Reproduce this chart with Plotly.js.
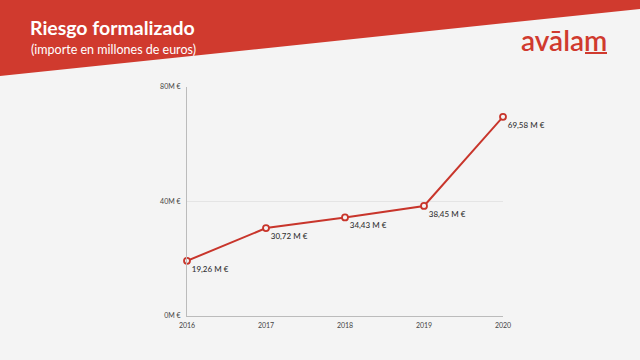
<!DOCTYPE html>
<html><head><meta charset="utf-8">
<script src="https://cdn.plot.ly/plotly-3.0.1.min.js"></script>
<style>html,body{margin:0;padding:0;background:#f4f4f4;}#chart{width:640px;height:360px;}</style>
</head><body><div id="chart"></div>
<script>
const years = [2016, 2017, 2018, 2019, 2020];
const values = [19.26, 30.72, 34.43, 38.45, 69.58];
const valueLabels = ["19,26 M €", "30,72 M €", "34,43 M €", "38,45 M €", "69,58 M €"];
const yTickVals = [0, 40, 80];
const yTickText = ["0M €", "40M €", "80M €"];

const W = 640, H = 360;
const M = {l: 187, r: 137, t: 87, b: 44};
const pw = W - M.l - M.r, ph = H - M.t - M.b;
const px = x => (x - M.l) / pw;
const py = y => (H - M.b - y) / ph;
const red = '#d03a2e';

const trace = {
  x: years, y: values, type: 'scatter', mode: 'lines+markers+text',
  text: valueLabels, textposition: 'bottom right',
  textfont: {family: 'Lato, sans-serif', size: 8, color: '#333', weight: 500},
  line: {color: '#c8352b', width: 2},
  marker: {symbol: 'circle', size: 6, color: '#f4f4f4', line: {color: '#c8352b', width: 1.8}},
  cliponaxis: false, hoverinfo: 'skip'
};

const layout = {
  width: W, height: H,
  margin: M,
  paper_bgcolor: '#f4f4f4', plot_bgcolor: '#f4f4f4',
  showlegend: false,
  font: {family: 'Lato, sans-serif', color: '#444'},
  xaxis: {
    range: [2016, 2020], tickvals: years, ticktext: years.map(String),
    showgrid: false, zeroline: false, showline: true, linecolor: '#bbb', linewidth: 1,
    tickfont: {size: 7, color: '#444'}, ticks: 'outside', ticklen: 3, tickcolor: 'rgba(0,0,0,0)'
  },
  yaxis: {
    range: [0, 80], tickvals: yTickVals, ticktext: yTickText,
    showgrid: true, gridcolor: '#e4e4e4', gridwidth: 1, zeroline: false,
    showline: true, linecolor: '#bbb', linewidth: 1,
    tickfont: {size: 7, color: '#444'}, ticks: 'outside', ticklen: 4, tickcolor: 'rgba(0,0,0,0)'
  },
  shapes: [
    {type: 'path', xref: 'paper', yref: 'paper', layer: 'below',
     path: `M ${px(0)} ${py(0)} L ${px(640)} ${py(0)} L ${px(640)} ${py(9)} L ${px(0)} ${py(76)} Z`,
     fillcolor: red, line: {width: 0}},
    {type: 'line', xref: 'paper', yref: 'paper',
     x0: px(585), x1: px(607), y0: py(53), y1: py(53),
     line: {color: red, width: 2}}
  ],
  annotations: [
    {xref: 'paper', yref: 'paper', x: px(29), y: py(40), xanchor: 'left', yanchor: 'bottom',
     borderpad: 0, text: '<b>Riesgo formalizado</b>', showarrow: false,
     font: {family: 'Lato, sans-serif', size: 19.5, color: '#ffffff', weight: 900}},
    {xref: 'paper', yref: 'paper', x: px(30), y: py(40.5), xanchor: 'left', yanchor: 'top',
     borderpad: 0, text: '(importe en millones de euros)', showarrow: false,
     font: {family: 'Lato, sans-serif', size: 12.5, color: '#ffffff'}},
    {xref: 'paper', yref: 'paper', x: px(564), y: py(40), xanchor: 'center', yanchor: 'middle',
     text: 'avālam', showarrow: false,
     font: {family: 'Lato, sans-serif', size: 28, color: red, weight: 600}}
  ]
};

Plotly.newPlot('chart', [trace], layout, {displayModeBar: false, staticPlot: true});
</script></body></html>
